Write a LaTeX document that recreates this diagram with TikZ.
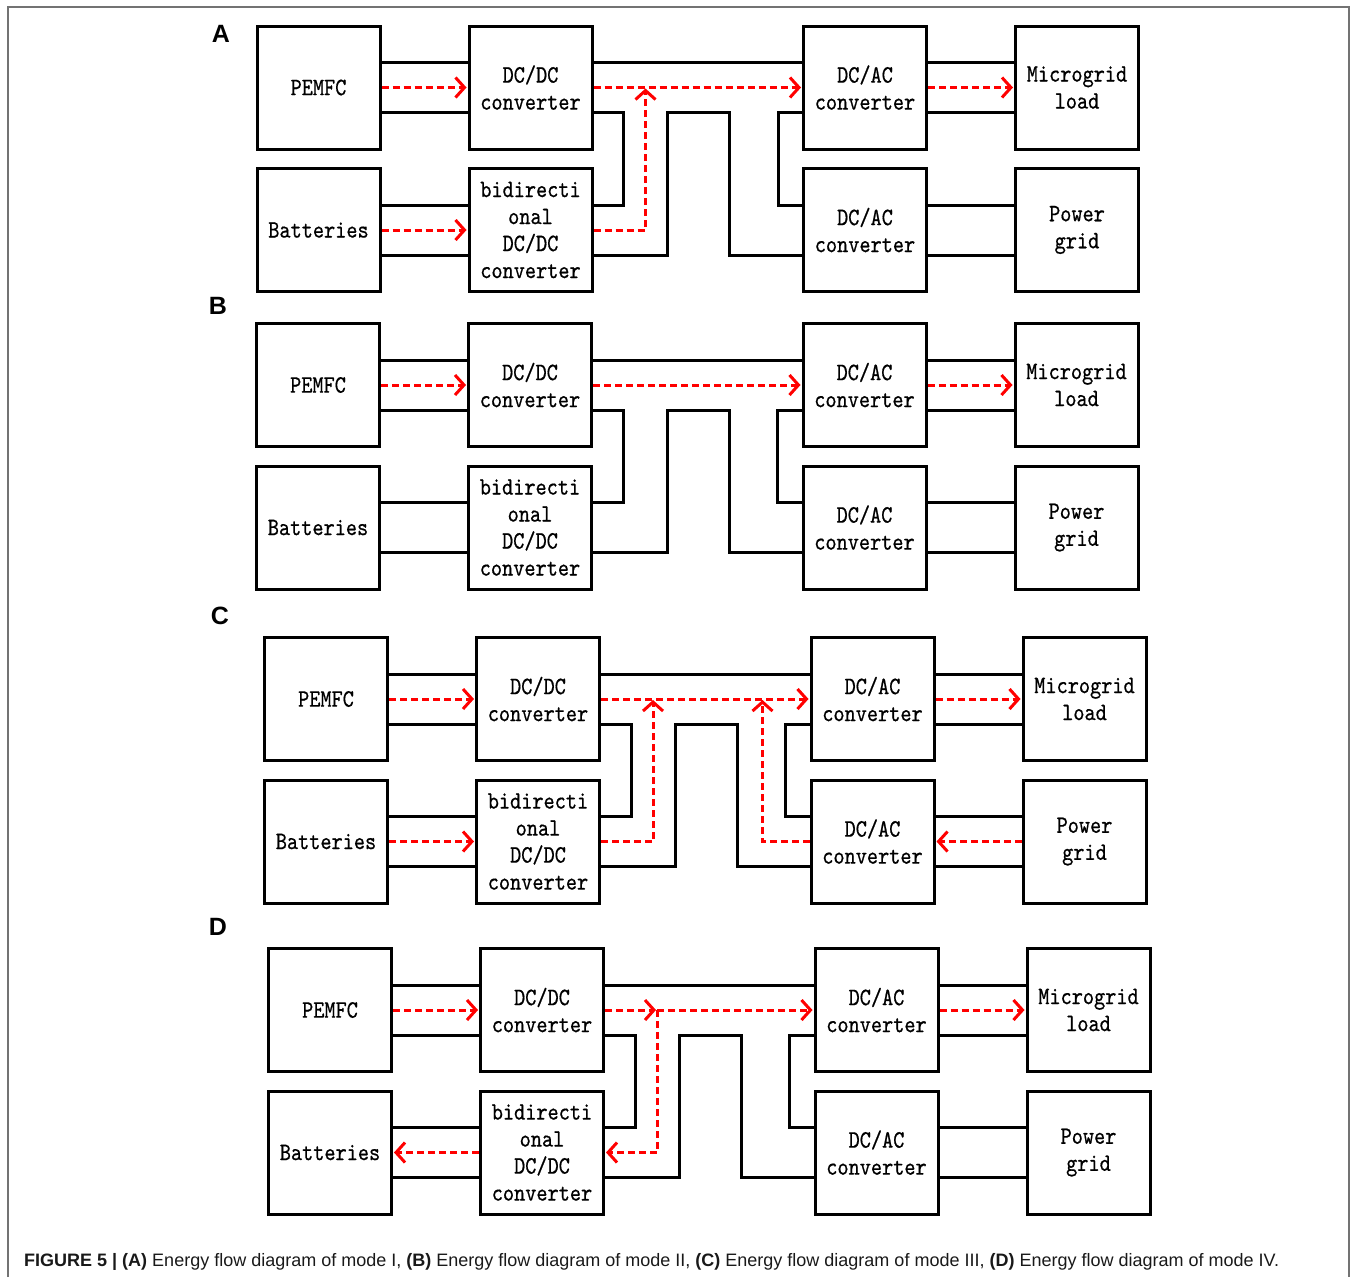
\documentclass[tikz,border=0pt]{standalone}
\usepackage{fontspec}
\setsansfont{Liberation Sans}
\newfontfamily\boxfont{lmmono10-regular.otf}[FakeStretch=0.85,FakeBold=0.6]
\usetikzlibrary{arrows.meta}

\begin{document}
\begin{tikzpicture}[x=1pt,y=1pt,
  box/.style={draw,line width=3pt,minimum width=123pt,minimum height=123pt,
    inner sep=0pt,align=center,font={\boxfont\fontsize{25}{27}\selectfont}},
  bus/.style={line width=3pt},
  flow/.style={red,line width=3pt,dash pattern=on 7pt off 4pt,shorten >=1pt,
    -{Straight Barb[length=9pt,width=20pt]}},
  lbl/.style={font={\sffamily\bfseries\fontsize{25}{30}\selectfont}}]
\useasboundingbox (0,0) rectangle (1356,-1277);
\draw[line width=1.5pt,black!55] (8,-1277)--(8,-7)--(1349,-7)--(1349,-1277);

% the four panels share the same blocks and buses
\foreach \p/\x/\y in {A/318.5/-87.5,B/318/-385,C/326/-699,D/330/-1010}{
  \begin{scope}[shift={(\x,\y)}]
  \node[box] (pem\p) at (0,0) {PEMFC};
  \node[box] (dcdc\p) at (212,0) {DC/DC\\converter};
  \node[box] (dcac\p) at (546.5,0) {DC/AC\\converter};
  \node[box] (load\p) at (758.5,0) {Microgrid\\load};
  \node[box] (bat\p) at (0,-142.5) {Batteries};
  \node[box] (bid\p) at (212,-142.5) {bidirecti\\onal\\DC/DC\\converter};
  \node[box] (inv\p) at (546.5,-142.5) {DC/AC\\converter};
  \node[box] (grid\p) at (758.5,-142.5) {Power\\grid};
  \end{scope}
  \foreach \a/\b in {pem/dcdc,bat/bid,dcac/load,inv/grid}{
    \draw[bus] ([yshift=25]\a\p.east)--([yshift=25]\b\p.west);
    \draw[bus] ([yshift=-25]\a\p.east)--([yshift=-25]\b\p.west);}
  \draw[bus] ([yshift=25]dcdc\p.east)--([yshift=25]dcac\p.west);
  \draw[bus] ([yshift=-25]dcdc\p.east)--++(30,0)|-([yshift=25]bid\p.east);
  \draw[bus] ([yshift=-25]bid\p.east)-|([shift={(74,-25)}]dcdc\p.east)--++(62,0)|-([yshift=-25]inv\p.west);
  \draw[bus] ([yshift=-25]dcac\p.west)--++(-24,0)|-([yshift=25]inv\p.west);
  \draw[flow] (pem\p.east)--(dcdc\p.west);
  \draw[flow] (dcac\p.east)--(load\p.west);
}

\node[lbl] (labA) at (221,-34) {A};
\node[lbl] (labB) at (218,-306) {B};
\node[lbl] (labC) at (220,-616) {C};
\node[lbl] (labD) at (218,-927) {D};

% mode I
\coordinate (upA) at ([xshift=52]dcdcA.east);
\draw[flow] (batA.east)--(bidA.west);
\draw[flow] (dcdcA.east)--(dcacA.west);
\draw[flow] (bidA.east)-|(upA);
% mode II
\draw[flow] (dcdcB.east)--(dcacB.west);
% mode III
\coordinate (upC) at ([xshift=52]dcdcC.east);
\coordinate (upC2) at ([xshift=-47]dcacC.west);
\draw[flow] (batC.east)--(bidC.west);
\draw[flow] (dcdcC.east)--(dcacC.west);
\draw[flow] (bidC.east)-|(upC);
\draw[flow] (invC.west)-|(upC2);
\draw[flow] (gridC.west)--(invC.east);
% mode IV
\coordinate (jD) at ([xshift=52]dcdcD.east);
\draw[flow] (dcdcD.east)--(jD);
\draw[flow] (jD)--(dcacD.west);
\draw[flow] (jD)|-(bidD.east);
\draw[flow] (bidD.west)--(batD.east);

\node[anchor=west,inner sep=0pt,text=black!90,font={\sffamily\fontsize{18}{21}\selectfont}] (cap) at (24,-1262)
  {\textbf{FIGURE 5 | (A)} Energy flow diagram of mode I, \textbf{(B)} Energy flow diagram of mode II, \textbf{(C)} Energy flow diagram of mode III, \textbf{(D)} Energy flow diagram of mode IV.};
\end{tikzpicture}
\end{document}
